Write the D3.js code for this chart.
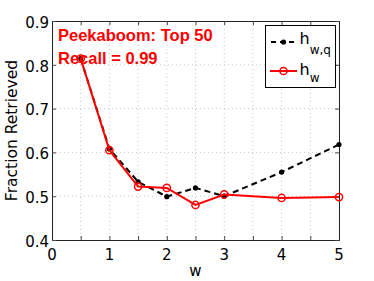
<!DOCTYPE html>
<html><head><meta charset="utf-8">
<script src="https://cdn.jsdelivr.net/npm/d3@7"></script>
<style>html,body{margin:0;padding:0;background:#fff;}svg{display:block;}</style>
</head><body>
<svg id="c" width="374" height="281"></svg>
<script>
const wValues = [0.5, 1, 1.5, 2, 2.5, 3, 4, 5];
const hwq = [0.814, 0.608, 0.533, 0.499, 0.519, 0.500, 0.555, 0.618];
const hw  = [0.814, 0.605, 0.522, 0.519, 0.480, 0.504, 0.496, 0.498];
const xTicks = [0, 1, 2, 3, 4, 5];
const yTicks = [0.4, 0.5, 0.6, 0.7, 0.8, 0.9];
const xGrid = [0.5, 1, 1.5, 2, 2.5, 3, 3.5, 4, 4.5];
const yGrid = [0.5, 0.6, 0.7, 0.8];
const titleLines = ["Peekaboom: Top 50", "Recall = 0.99"];

const svg = d3.select("#c");
const L = 52, R = 339, T = 21, B = 240;
const x = d3.scaleLinear().domain([0, 5]).range([L, R]);
const y = d3.scaleLinear().domain([0.4, 0.9]).range([B, T]);
const tickFont = "'DejaVu Sans', sans-serif";

// grid
svg.append("g").selectAll("line").data(xGrid).join("line")
  .attr("x1", d => x(d)).attr("x2", d => x(d)).attr("y1", T).attr("y2", B)
  .attr("stroke", "#c8c8c8").attr("stroke-width", 1).attr("stroke-dasharray", "1,3");
svg.append("g").selectAll("line").data(yGrid).join("line")
  .attr("y1", d => y(d)).attr("y2", d => y(d)).attr("x1", L).attr("x2", R)
  .attr("stroke", "#c8c8c8").attr("stroke-width", 1).attr("stroke-dasharray", "1,3");

// axes (inward ticks, Matlab style)
const xa = d3.axisBottom(x).tickValues(d3.range(0, 5.01, 0.5)).tickSize(-4).tickFormat("");
const xat = d3.axisTop(x).tickValues(d3.range(0, 5.01, 0.5)).tickSize(-4).tickFormat("");
const ya = d3.axisLeft(y).tickValues(d3.range(0.4, 0.901, 0.1)).tickSize(-4).tickFormat("");
const yar = d3.axisRight(y).tickValues(d3.range(0.4, 0.901, 0.1)).tickSize(-4).tickFormat("");
[[xa, `translate(0,${B})`], [xat, `translate(0,${T})`], [ya, `translate(${L},0)`], [yar, `translate(${R},0)`]]
  .forEach(([ax, tr]) => {
    const g = svg.append("g").attr("transform", tr).call(ax);
    g.select(".domain").attr("stroke", "#222");
    g.selectAll(".tick line").attr("stroke", "#444");
  });

// tick labels
svg.append("g").selectAll("text").data(xTicks).join("text")
  .attr("x", d => x(d)).attr("y", 260).attr("text-anchor", "middle")
  .attr("font-family", tickFont).attr("font-size", 15).attr("fill", "#000")
  .text(d => d);
svg.append("g").selectAll("text").data(yTicks).join("text")
  .attr("x", 49).attr("y", d => y(d) + 6.8).attr("text-anchor", "end")
  .attr("font-family", tickFont).attr("font-size", 15).attr("fill", "#000")
  .text(d => d3.format(".1f")(d));

// axis labels
svg.append("text").attr("x", x(2.5)).attr("y", 276).attr("text-anchor", "middle")
  .attr("font-family", tickFont).attr("font-size", 15).text("w");
svg.append("text").attr("transform", `translate(17,${(T + B) / 2}) rotate(-90)`)
  .attr("text-anchor", "middle").attr("font-family", tickFont).attr("font-size", 15.5)
  .text("Fraction Retrieved");

// series
const lineGen = vals => d3.line().x((d, i) => x(wValues[i])).y(d => y(d))(vals);
svg.append("path").attr("d", lineGen(hwq)).attr("fill", "none")
  .attr("stroke", "#000").attr("stroke-width", 2).attr("stroke-dasharray", "6,4");
svg.append("g").selectAll("circle").data(hwq).join("circle")
  .attr("cx", (d, i) => x(wValues[i])).attr("cy", d => y(d)).attr("r", 2.6).attr("fill", "#000");
svg.append("path").attr("d", lineGen(hw)).attr("fill", "none")
  .attr("stroke", "#ff0000").attr("stroke-width", 2);
svg.append("g").selectAll("circle").data(hw).join("circle")
  .attr("cx", (d, i) => x(wValues[i])).attr("cy", d => y(d)).attr("r", 3.6)
  .attr("fill", "none").attr("stroke", "#ff0000").attr("stroke-width", 1.5);

// annotation text (drawn over the data, as in the reference)
svg.append("g").selectAll("text").data(titleLines).join("text")
  .attr("x", 58).attr("y", (d, i) => 41 + i * 23)
  .attr("font-family", "'Liberation Sans', Arial, sans-serif").attr("font-weight", "bold")
  .attr("font-size", 16.5).attr("fill", "#ff0000").text(d => d);

// legend
const lg = svg.append("g");
lg.append("rect").attr("x", 265.5).attr("y", 25.5).attr("width", 70).attr("height", 62)
  .attr("fill", "#fff").attr("stroke", "#000").attr("stroke-width", 1);
lg.append("line").attr("x1", 270).attr("x2", 297).attr("y1", 42).attr("y2", 42)
  .attr("stroke", "#000").attr("stroke-width", 2).attr("stroke-dasharray", "5,4").attr("stroke-dashoffset", -1);
lg.append("circle").attr("cx", 283.5).attr("cy", 42).attr("r", 2.6).attr("fill", "#000");
lg.append("line").attr("x1", 270).attr("x2", 297).attr("y1", 71).attr("y2", 71)
  .attr("stroke", "#ff0000").attr("stroke-width", 2);
lg.append("circle").attr("cx", 283.5).attr("cy", 71).attr("r", 3.6)
  .attr("fill", "none").attr("stroke", "#ff0000").attr("stroke-width", 1.5);
const t1 = lg.append("text").attr("x", 299.5).attr("y", 44).attr("font-family", tickFont).attr("font-size", 16);
t1.append("tspan").text("h");
t1.append("tspan").attr("dy", 10).attr("font-size", 12).text("w,q");
const t2 = lg.append("text").attr("x", 299.5).attr("y", 75).attr("font-family", tickFont).attr("font-size", 16);
t2.append("tspan").text("h");
t2.append("tspan").attr("dy", 7).attr("font-size", 12).text("w");
</script>
</body></html>
